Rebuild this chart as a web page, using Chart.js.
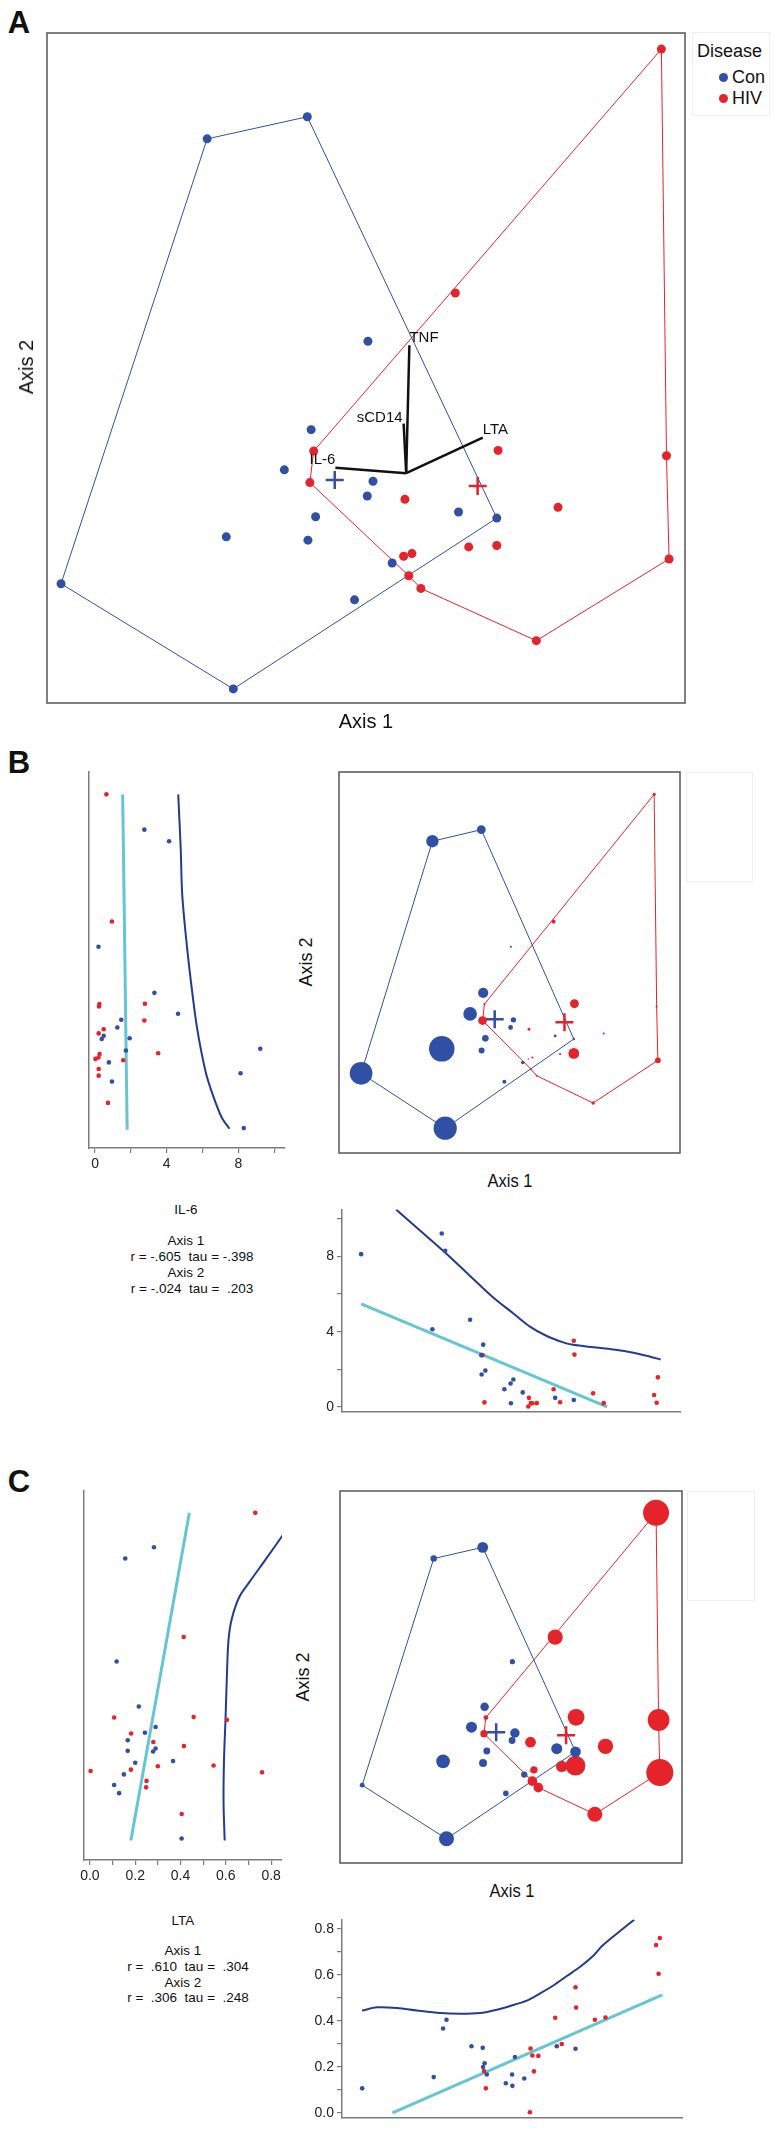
<!DOCTYPE html>
<html>
<head>
<meta charset="utf-8">
<script src="https://cdn.jsdelivr.net/npm/chart.js@4.4.1/dist/chart.umd.min.js"></script>
<style>
  body { margin: 0; background: #fff; width: 774px; height: 2133px; position: relative; overflow: hidden;
         font-family: "Liberation Sans", Arial, sans-serif; color: #111; }
  canvas { position: absolute; }
  .t { position: absolute; white-space: pre; line-height: 1; }
  .box { position: absolute; border: 1px solid #efefef; }
</style>
</head>
<body>
<div class="box" style="left:692px;top:32px;width:76px;height:82px;"></div>
<div class="box" style="left:686px;top:772px;width:65px;height:108px;"></div>
<div class="box" style="left:687px;top:1491px;width:66px;height:108px;"></div>
<script>
// ordination scores (Axis 1 / Axis 2), one entry per subject
const conAxis1 = [25.1, 40.8, 2.2, 29.2, 70.5, 50.3, 41.4, 37.2, 51.1, 50.2, 42.1, 28.1, 40.9, 64.5, 54.1, 48.2];
const conAxis2 = [84.2, 87.5, 17.8, 2.1, 27.6, 54.0, 40.8, 34.8, 33.1, 30.9, 27.8, 24.8, 24.3, 28.5, 20.9, 15.4];
const hivAxis1 = [96.3, 64.0, 41.8, 41.2, 70.7, 56.1, 80.1, 97.1, 97.5, 66.1, 70.5, 55.9, 57.2, 56.7, 58.6, 76.7];
const hivAxis2 = [97.6, 61.2, 37.6, 32.9, 37.7, 30.4, 29.2, 36.9, 21.5, 23.3, 23.5, 21.9, 22.3, 19.0, 17.1, 9.3];

// measured variables
const conIL6 = [4.13, 2.75, 8.12, 8.3, 0.37, 0.19, 3.31, 4.63, 1.46, 1.24, 1.93, 9.22, 1.72, 0.48, 0.77, 0.94];
const hivIL6 = [0.63, 0.94, 0.24, 2.75, 2.78, 0.48, 0.2, 0.22, 1.57, 0.25, 3.52, 0.02, 0.19, 0.2, 0.2, 0.72];
const conLTA = [0.156, 0.283, 0.107, 0.405, 0.279, 0.118, 0.216, 0.29, 0.243, 0.167, 0.167, 0.367, 0.2, 0.29, 0.15, 0.129];
const hivLTA = [0.73, 0.414, 0.107, 0.182, 0.458, 0.28, 0.415, 0.605, 0.76, 0.3, 0.546, 0.003, 0.181, 0.25, 0.248, 0.405];

// hulls (indices into the arrays above) and group centroids
const conHull = [2, 0, 1, 4, 3, 2];
const hivHull = [0, 7, 8, 15, 14, 13, 3, 2, 0];
const conCentroid = [45.1, 33.3];
const hivCentroid = [67.5, 32.4];

// biplot vectors
const vectorNames = ["TNF", "sCD14", "LTA", "IL-6"];
const vectorOrigin = [56.3, 34.3];
const vectorAxis1 = [56.8, 55.9, 68.3, 45.2];
const vectorAxis2 = [53.4, 41.7, 39.6, 35.1];

// fitted lines and smooths
const il6FitX = [1.54, 1.79], il6FitAxis2 = [97.6, 1.6];
const il6SmoothX = [4.64, 4.78, 4.86, 5.08, 5.36, 5.69, 6.18, 6.57, 7.06, 7.5];
const il6SmoothAxis2 = [97.6, 82.0, 69.2, 56.4, 43.6, 30.8, 18.0, 11.6, 5.2, 1.9];
const il6FitAxis1 = [2.2, 81.2], il6FitY = [5.48, 0];
const il6SmoothAxis1 = [13.4, 26.25, 29.7, 36.1, 44.7, 51.1, 56.4, 61.8, 67.1, 70.3, 76.8, 83.2, 89.6, 95.0, 98.4];
const il6SmoothY = [10.5, 8.63, 8.13, 7.13, 5.8, 4.97, 4.27, 3.77, 3.43, 3.3, 3.17, 3.05, 2.88, 2.67, 2.52];
const ltaFitX = [0.439, 0.181], ltaFitAxis2 = [97.6, 1.5];
const ltaSmoothX = [0.857, 0.78, 0.704, 0.66, 0.627, 0.612, 0.605, 0.599, 0.592, 0.59, 0.595];
const ltaSmoothAxis2 = [91.6, 84.3, 77.3, 73.0, 66.7, 60.4, 50.3, 37.7, 25.2, 12.6, 1.5];
const ltaFitAxis1 = [11.9, 98.3], ltaFitY = [0, 0.513];
const ltaSmoothAxis1 = [2.17, 6.96, 13.35, 19.75, 27.2, 33.6, 40.0, 44.2, 49.6, 54.9, 59.2, 63.4, 67.7, 72.0, 76.2, 78.9, 83.8, 89.3];
const ltaSmoothY = [0.445, 0.459, 0.456, 0.445, 0.434, 0.431, 0.434, 0.445, 0.465, 0.488, 0.52, 0.554, 0.595, 0.635, 0.683, 0.724, 0.78, 0.84];

// ticks
const il6Ticks = [0, 2, 4, 6, 8, 10];
const il6TickLabels = ["0", "", "4", "", "8", ""];
const ltaTicks = [0, 0.1, 0.2, 0.3, 0.4, 0.5, 0.6, 0.7, 0.8];
const ltaTickLabels = ["0.0", "", "0.2", "", "0.4", "", "0.6", "", "0.8"];

const blue = "#3050a5", red = "#e4232b", cyan = "#64c6d5", navy = "#243b8f", gray = "#7c7c7c";

Chart.defaults.font.family = '"Liberation Sans", Arial, sans-serif';
Chart.defaults.animation = false;
Chart.defaults.responsive = false;
Chart.defaults.events = [];
Chart.defaults.plugins.legend.display = false;
Chart.defaults.plugins.tooltip.enabled = false;

const pts = (xs, ys) => xs.map((x, i) => ({ x, y: ys[i] }));
const ring = (xs, ys, idx) => idx.map((i) => ({ x: xs[i], y: ys[i] }));
const dots = (data, color, r) => ({ data, backgroundColor: color, borderWidth: 0, pointRadius: r });
const path = (data, color, w, tension = 0) => ({
  data, showLine: true, borderColor: color, borderWidth: w, pointRadius: 0, tension, fill: false,
});
const cross = (c, color) => ({
  data: [{ x: c[0], y: c[1] }], pointStyle: "cross", pointRadius: 9, borderColor: color, borderWidth: 2.5,
});

function ordination(conR, hivR) {
  return [
    dots(pts(conAxis1, conAxis2), blue, conR),
    dots(pts(hivAxis1, hivAxis2), red, hivR),
    cross(conCentroid, blue),
    cross(hivCentroid, red),
    path(ring(conAxis1, conAxis2, conHull), blue, 1),
    path(ring(hivAxis1, hivAxis2, hivHull), red, 1),
  ];
}

const frame = {
  id: "frame",
  afterDraw(chart) {
    const { ctx, chartArea: a } = chart;
    ctx.save();
    ctx.strokeStyle = "#555";
    ctx.lineWidth = 1.5;
    ctx.strokeRect(a.left, a.top, a.right - a.left, a.bottom - a.top);
    ctx.restore();
  },
};

const labelOffsets = [[0, -7, "left"], [-1, -6, "right"], [0, -8, "left"], [0, -8, "right"]];
const vectorLabels = {
  id: "vectorLabels",
  afterDatasetsDraw(chart) {
    const { ctx, scales: { x, y } } = chart;
    ctx.save();
    ctx.font = '15px "Liberation Sans", Arial, sans-serif';
    ctx.fillStyle = "#111";
    ctx.textBaseline = "middle";
    vectorNames.forEach((name, i) => {
      const [dx, dy, align] = labelOffsets[i];
      ctx.textAlign = align;
      ctx.fillText(name, x.getPixelForValue(vectorAxis1[i]) + dx, y.getPixelForValue(vectorAxis2[i]) + dy);
    });
    ctx.restore();
  },
};

const fixSize = (size) => (s) => { if (s.isHorizontal()) s.height = size; else s.width = size; };
const hidden = (min, max) => ({ type: "linear", display: false, min, max });
const axisLine = (min, max, size) => ({
  type: "linear", min, max, afterFit: fixSize(size),
  ticks: { display: false }, grid: { display: false },
  border: { display: true, color: gray, width: 1.5 },
});
const tickAxis = (min, max, size, values, labels) => ({
  type: "linear", min, max, afterFit: fixSize(size),
  afterBuildTicks: (s) => { s.ticks = values.map((v) => ({ value: v })); },
  ticks: {
    autoSkip: false, maxRotation: 0, color: "#222", font: { size: 14 }, padding: 3,
    callback: (v) => labels[values.indexOf(v)] ?? "",
  },
  grid: { display: true, drawOnChartArea: false, drawTicks: true, tickLength: 5, color: gray, lineWidth: 1.2 },
  border: { display: true, color: gray, width: 1.5 },
});

// area = [left, top, right, bottom] of the plot area on the page, pad = [l, t, r, b] around it
function chartAt(area, pad, datasets, scales, padding, plugins = []) {
  const c = document.createElement("canvas");
  const w = area[2] - area[0] + pad[0] + pad[2];
  const h = area[3] - area[1] + pad[1] + pad[3];
  c.width = w; c.height = h;
  c.style.left = area[0] - pad[0] + "px";
  c.style.top = area[1] - pad[1] + "px";
  c.style.width = w + "px";
  c.style.height = h + "px";
  document.body.appendChild(c);
  return new Chart(c, {
    type: "scatter",
    data: { datasets },
    options: { layout: { autoPadding: false, padding }, scales },
    plugins,
  });
}

function text(str, x, y, size, opts = {}) {
  const d = document.createElement("div");
  d.className = "t";
  d.textContent = str;
  d.style.left = x + "px";
  d.style.top = y + "px";
  d.style.fontSize = size + "px";
  if (opts.bold) d.style.fontWeight = "bold";
  const tx = opts.left ? "0" : "-50%";
  d.style.transform = `translate(${tx},-50%)${opts.rot ? " rotate(-90deg)" : ""} scaleX(${opts.sx || 1})`;
  if (opts.left) d.style.transformOrigin = "left center";
  document.body.appendChild(d);
}

// ---- A: ordination with biplot vectors
const vectors = vectorNames.map((n, i) =>
  path([{ x: vectorOrigin[0], y: vectorOrigin[1] }, { x: vectorAxis1[i], y: vectorAxis2[i] }], "#111", 2.5)
);
chartAt([47, 33, 685, 703], [12, 12, 12, 12], [...vectors, ...ordination(4.5, 4.5)],
  { x: hidden(0, 100), y: hidden(0, 100) }, 12, [frame, vectorLabels]);

// ---- B: IL-6
chartAt([339, 772, 680, 1153], [15, 15, 15, 15],
  ordination(conIL6.map((v) => 1.3 * v + 0.8), hivIL6.map((v) => 1.3 * v + 0.8)),
  { x: hidden(-4.9, 104.6), y: hidden(-5, 104) }, 15, [frame]);

chartAt([89, 772, 285, 1148], [10, 10, 10, 30], [
  dots(pts(conIL6, conAxis2), blue, 2.3),
  dots(pts(hivIL6, hivAxis2), red, 2.3),
  path(pts(il6SmoothX, il6SmoothAxis2), navy, 2, 0.3),
  path(pts(il6FitX, il6FitAxis2), cyan, 3),
], { x: tickAxis(-0.34, 10.6, 30, il6Ticks, il6TickLabels), y: axisLine(-3.6, 104, 10) },
  { left: 0, top: 10, right: 10, bottom: 0 });

chartAt([342, 1203, 680, 1418], [40, 5, 10, 5], [
  dots(pts(conAxis1, conIL6), blue, 2.3),
  dots(pts(hivAxis1, hivIL6), red, 2.3),
  path(pts(il6SmoothAxis1, il6SmoothY), navy, 2, 0.3),
  path(pts(il6FitAxis1, il6FitY), cyan, 3),
], { x: axisLine(-3.94, 104.6, 5), y: tickAxis(-0.25, 10.5, 40, il6Ticks, il6TickLabels) },
  { left: 0, top: 5, right: 10, bottom: 0 });

// ---- C: LTA
chartAt([340, 1491, 682, 1863], [15, 15, 15, 15],
  ordination(conLTA.map((v) => 17 * v + 0.6), hivLTA.map((v) => 17 * v + 0.6)),
  { x: hidden(-4.9, 104.6), y: hidden(-5, 104) }, 15, [frame]);

chartAt([84, 1491, 282, 1860], [10, 10, 10, 30], [
  dots(pts(conLTA, conAxis2), blue, 2.3),
  dots(pts(hivLTA, hivAxis2), red, 2.3),
  path(pts(ltaSmoothX, ltaSmoothAxis2), navy, 2, 0.3),
  path(pts(ltaFitX, ltaFitAxis2), cyan, 3),
], { x: tickAxis(-0.026, 0.848, 30, ltaTicks, ltaTickLabels), y: axisLine(-4.2, 104, 10) },
  { left: 0, top: 10, right: 10, bottom: 0 });

chartAt([342, 1913, 682, 2124], [40, 5, 10, 5], [
  dots(pts(conAxis1, conLTA), blue, 2.3),
  dots(pts(hivAxis1, hivLTA), red, 2.3),
  path(pts(ltaSmoothAxis1, ltaSmoothY), navy, 2, 0.3),
  path(pts(ltaFitAxis1, ltaFitY), cyan, 3),
], { x: axisLine(-4.26, 104.6, 5), y: tickAxis(-0.02, 0.841, 40, ltaTicks, ltaTickLabels) },
  { left: 0, top: 5, right: 10, bottom: 0 });

// ---- text
text("A", 19, 22, 31, { bold: true });
text("B", 19, 762, 31, { bold: true });
text("C", 19, 1481, 31, { bold: true });

text("Axis 2", 26, 367, 20, { rot: true });
text("Axis 1", 366, 721, 20);
text("Disease", 697, 51, 18, { left: true });
text("Con", 732, 77, 18, { left: true });
text("HIV", 732, 98, 18, { left: true });
[[723, 77, blue], [723, 98, red]].forEach(([x, y, c]) => {
  const d = document.createElement("div");
  d.style.cssText = `position:absolute;left:${x - 4.5}px;top:${y - 4.5}px;width:9px;height:9px;border-radius:50%;background:${c};`;
  document.body.appendChild(d);
});

text("Axis 2", 306, 962, 18, { rot: true });
text("Axis 1", 510, 1181, 18, { sx: 0.92 });
text("IL-6", 186, 1210, 13.5);
text("Axis 1", 186, 1241, 13.5);
text("r = -.605  tau = -.398", 192, 1257, 13.5);
text("Axis 2", 186, 1273, 13.5);
text("r = -.024  tau =  .203", 192, 1289, 13.5);

text("Axis 2", 303, 1677, 18, { rot: true });
text("Axis 1", 512, 1891, 18, { sx: 0.92 });
text("LTA", 183, 1921, 13.5);
text("Axis 1", 183, 1951, 13.5);
text("r =  .610  tau =  .304", 188, 1967, 13.5);
text("Axis 2", 183, 1983, 13.5);
text("r =  .306  tau =  .248", 188, 1998, 13.5);
</script>
</body>
</html>
